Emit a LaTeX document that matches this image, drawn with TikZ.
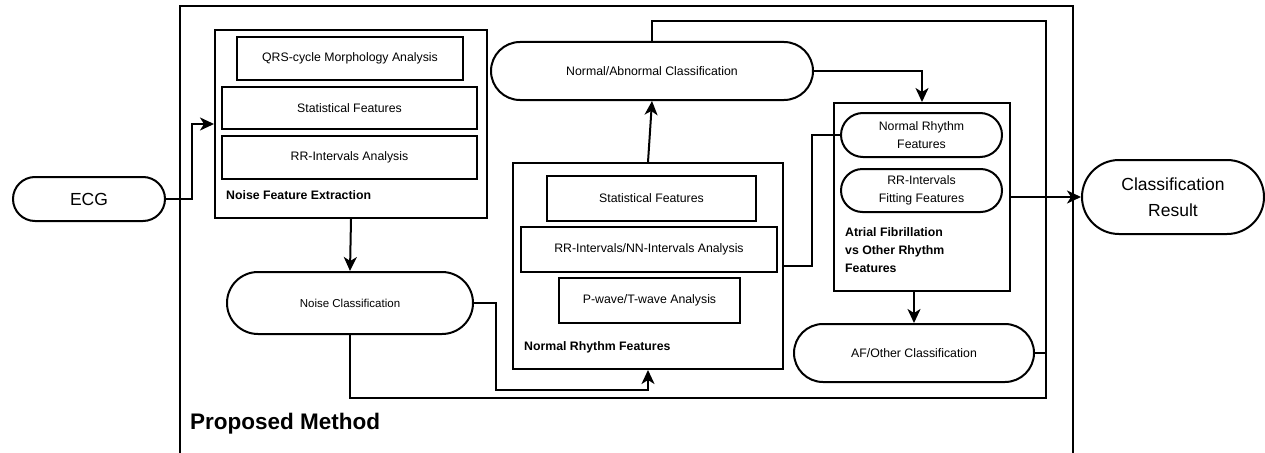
\documentclass[tikz,border=0pt]{standalone}
\usepackage{fontspec}
\setmainfont{Liberation Sans}
\usetikzlibrary{shapes.misc,arrows.meta}

\tikzset{
  base/.style={draw,line width=2pt,inner sep=0pt,align=center,font=\fontsize{12.3}{18}\selectfont},
  box/.style={base,rectangle},
  term/.style={base,rounded rectangle},
  grp/.style={draw,line width=2pt,rectangle},
  lbl/.style={anchor=west,align=left,inner sep=0pt,font=\fontsize{12.3}{18}\selectfont\bfseries},
  conn/.style={line width=2pt},
  arr/.style={line width=2pt,-{Stealth[length=14pt,width=13pt,inset=4pt]}}
}

\begin{document}
\begin{tikzpicture}[x=1pt,y=-1pt]
\useasboundingbox (0,0) rectangle (1265,452);
\draw[conn] (180,460) -- (180,6) -- (1073,6) -- (1073,460);
\node[lbl,font=\fontsize{22.5}{26}\selectfont\bfseries] (pm) at (190,424) {Proposed Method};

\node[grp,minimum width=272pt,minimum height=188pt] (nfe) at (351,124) {};
\node[box,minimum width=226pt,minimum height=43pt] (qrs) at (350,58.5) {QRS-cycle Morphology Analysis};
\node[box,minimum width=255pt,minimum height=42pt] (stat1) at (349.5,108) {Statistical Features};
\node[box,minimum width=255pt,minimum height=43pt] (rr1) at (349.5,157.5) {RR-Intervals Analysis};
\node[lbl] (nfelbl) at (226,195) {Noise Feature Extraction};

\node[term,minimum width=152pt,minimum height=44pt,font=\fontsize{17.5}{26}\selectfont] (ecg) at (89,199) {ECG};
\node[term,minimum width=246pt,minimum height=62pt,font=\fontsize{11.5}{14}\selectfont] (noise) at (350,303) {Noise Classification};
\node[term,minimum width=322pt,minimum height=58pt] (na) at (652,71) {Normal/Abnormal Classification};

\node[grp,minimum width=270pt,minimum height=206pt] (nrf) at (648,266) {};
\node[box,minimum width=209pt,minimum height=45pt] (stat2) at (651.5,198.5) {Statistical Features};
\node[box,minimum width=256pt,minimum height=45pt] (rrnn) at (649,249.5) {RR-Intervals/NN-Intervals Analysis};
\node[box,minimum width=181pt,minimum height=45pt] (pt) at (649.5,300.5) {P-wave/T-wave Analysis};
\node[lbl] (nrflbl) at (524,347) {Normal Rhythm Features};

\node[grp,minimum width=176pt,minimum height=188pt] (af) at (922,197) {};
\node[term,minimum width=161pt,minimum height=44pt] (nrt) at (921.5,135) {Normal Rhythm\\Features};
\node[term,minimum width=161pt,minimum height=43pt] (rrf) at (921.5,190.5) {RR-Intervals\\Fitting Features};
\node[lbl] (aflbl) at (845,250) {Atrial Fibrillation\\vs Other Rhythm\\Features};

\node[term,minimum width=240pt,minimum height=58pt] (afo) at (914,353) {AF/Other Classification};
\node[term,minimum width=182pt,minimum height=74pt,font=\fontsize{17.5}{26}\selectfont] (cr) at (1173,197) {Classification\\Result};

\coordinate (busb) at (1046,398);
\coordinate (bust) at (1046,21);

\draw[arr] (ecg.east) -- ++(26,0) |- (nfe.west);
\draw[arr] (nfe.south) -- (noise.north);
\draw[arr] (noise.east) -- ++(22,0) -- ++(0,87) -| (nrf.south);
\draw[conn] (noise.south) |- (busb) -- (bust) -| (na.north);
\draw[conn] (afo.east) -- (afo.east -| busb);
\draw[arr] (nrf.north) -- (na.south);
\draw[arr] (na.east) -| (af.north);
\draw[conn] (nrt.west) -- ++(-28,0) |- (nrf.east);
\draw[arr] (af.south -| afo.north) -- (afo.north);
\draw[arr] (af.east) -- (cr.west);
\end{tikzpicture}
\end{document}
